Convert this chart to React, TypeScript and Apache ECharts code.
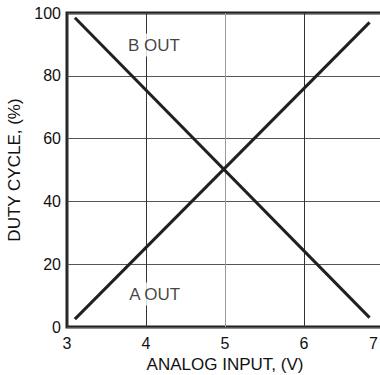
import React, { useEffect, useRef } from "react";
import * as echarts from "echarts";

const xTicks = [3, 4, 5, 6, 7];
const yTicks = [0, 20, 40, 60, 80, 100];
const aOut: [number, number][] = [
  [3.1, 2.5],
  [6.83, 97],
];
const bOut: [number, number][] = [
  [3.1, 98.5],
  [6.83, 3],
];
const annotations = [
  { name: "B OUT", at: [4.1, 89.8] },
  { name: "A OUT", at: [4.11, 10.5] },
];

const INK = "#231f20";
const FONT = "'Liberation Sans', Arial, Helvetica, sans-serif";

export default function App() {
  const ref = useRef<HTMLDivElement>(null);
  useEffect(() => {
    if (!ref.current) return;
    const chart = echarts.init(ref.current, undefined, { renderer: "svg" });
    const xMax = xTicks[xTicks.length - 1];
    chart.setOption({
      animation: false,
      backgroundColor: "#ffffff",
      grid: {
        left: 67,
        top: 13,
        right: -3,
        bottom: 48,
        containLabel: false,
        outerBoundsMode: "none",
        show: true,
        borderColor: INK,
        borderWidth: 3,
      },
      xAxis: {
        type: "value",
        min: xTicks[0],
        max: xMax,
        interval: 1,
        name: "ANALOG INPUT, (V)",
        nameLocation: "middle",
        nameGap: 27,
        nameTextStyle: { fontFamily: FONT, fontSize: 17, color: "#111" },
        axisLine: { show: false },
        axisTick: { show: false },
        axisLabel: {
          fontFamily: FONT,
          fontSize: 16,
          color: "#111",
          margin: 8,
          showMinLabel: true,
          showMaxLabel: true,
          alignMaxLabel: "right",
          formatter: (v: number) => (v === xMax ? `{r|${v}}` : `${v}`),
          rich: {
            r: { fontFamily: FONT, fontSize: 16, color: "#111", padding: [0, 5, 0, 0] },
          },
        },
        splitLine: {
          show: true,
          lineStyle: { color: ["#333", "#333", "#999", "#333", "#333"], width: 1 },
        },
      },
      yAxis: {
        type: "value",
        min: yTicks[0],
        max: yTicks[yTicks.length - 1],
        interval: 20,
        name: "DUTY CYCLE, (%)",
        nameLocation: "middle",
        nameGap: 32,
        nameTextStyle: { fontFamily: FONT, fontSize: 17, color: "#111" },
        axisLine: { show: false },
        axisTick: { show: false },
        axisLabel: { fontFamily: FONT, fontSize: 16, color: "#111", margin: 6 },
        splitLine: { show: true, lineStyle: { color: "#555", width: 1 } },
      },
      series: [
        {
          name: "A OUT",
          type: "line",
          data: aOut,
          symbol: "none",
          lineStyle: { color: INK, width: 3 },
        },
        {
          name: "B OUT",
          type: "line",
          data: bOut,
          symbol: "none",
          lineStyle: { color: INK, width: 3 },
        },
        {
          type: "scatter",
          symbolSize: 0,
          data: annotations.map((a) => ({ name: a.name, value: a.at })),
          label: {
            show: true,
            position: "inside",
            formatter: (p: any) => p.name,
            fontFamily: FONT,
            fontSize: 17,
            color: "#111",
            backgroundColor: "#ffffff",
            padding: [3, 2],
          },
          silent: true,
        },
      ],
    });
    return () => chart.dispose();
  }, []);
  return (
    <div
      ref={ref}
      style={{ position: "absolute", left: 0, top: 0, width: 380, height: 375 }}
    />
  );
}
